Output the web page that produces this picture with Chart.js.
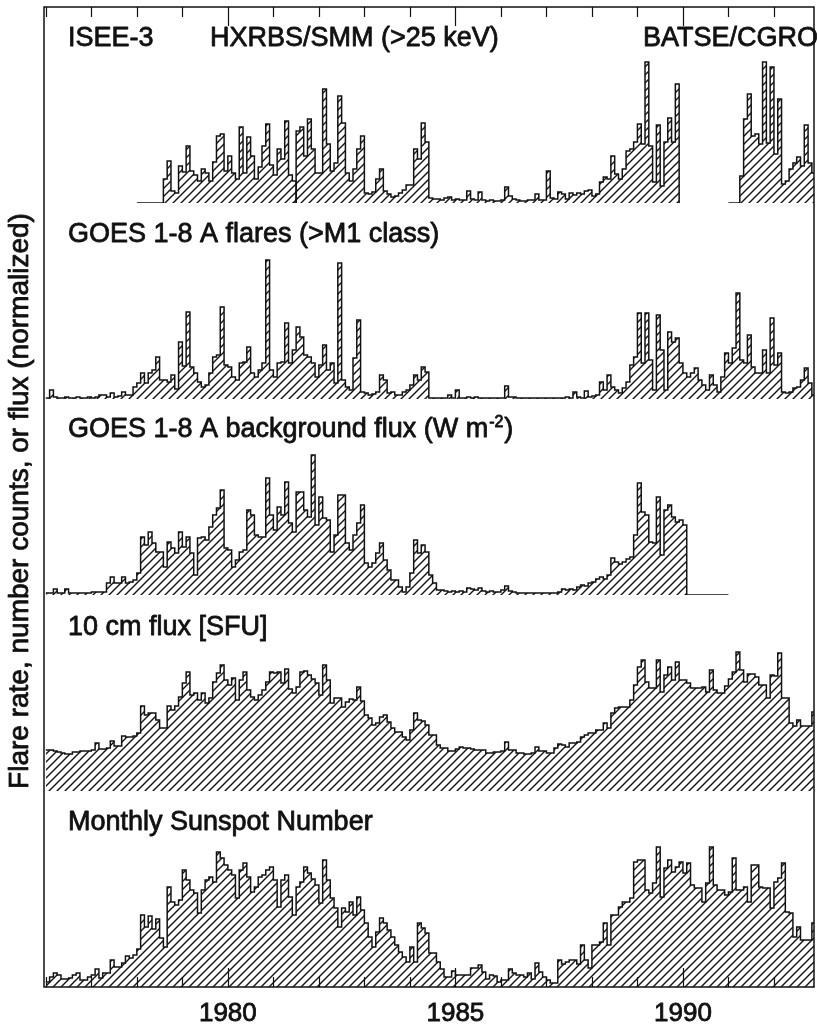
<!DOCTYPE html>
<html>
<head>
<meta charset="utf-8">
<title>Flare rates and solar activity 1976-1992</title>
<script src="https://cdn.jsdelivr.net/npm/chart.js@4.4.1/dist/chart.umd.min.js"></script>
<style>
  html, body { margin: 0; padding: 0; background: #ffffff; }
  canvas { display: block; }
</style>
</head>
<body>
<canvas id="activityChart" width="817" height="1024"></canvas>
<script>
// MONTHLY BINS (ONE ROW PER YEAR), HEIGHTS NORMALIZED TO A PANEL FULL SCALE OF 196
var isee3Start = 1978;            // JAN 1978
var isee3Rate = [
  0, 0, 0, 0, 0, 0, 0, 24, 42, 12, 10, 37,
  31, 57, 32, 28, 22, 34, 30, 22, 41, 67, 69, 32,
  47, 30, 24, 76, 30, 66, 47, 24, 36, 57, 79, 38,
  28, 54, 44, 82, 28, 22, 0
];
var hxrbsStart = 1981 + 5 / 12;   // JUN 1981
var hxrbsRate = [
  0, 72, 76, 47, 84, 54, 30, 30,
  114, 59, 32, 40, 107, 80, 30, 22, 34, 54, 67, 10,
  9, 11, 24, 34, 12, 9, 6, 7, 10, 13, 18, 18,
  54, 44, 80, 61, 5, 4, 4, 3, 5, 6, 3, 4,
  3, 3, 12, 4, 3, 11, 3, 2, 3, 2, 2, 3,
  16, 7, 4, 3, 2, 2, 3, 3, 9, 3, 3, 32,
  5, 4, 11, 9, 4, 10, 8, 10, 9, 12, 13, 7,
  9, 21, 26, 24, 47, 29, 24, 34, 52, 54, 61, 79,
  59, 141, 57, 21, 78, 17, 61, 85, 61, 119, 0
];
var batseStart = 1991;            // JAN 1991
var batseRate = [
  0, 0, 0, 27, 84, 109, 67, 69, 59, 141, 60, 136,
  49, 104, 19, 22, 34, 40, 46, 37, 78, 40, 30, 30
];

var goesStart = 1976;             // JAN 1976, ALSO USED FOR 10 CM AND SUNSPOTS
var goesFlareRate = [
  1, 9, 2, 1, 1, 2, 1, 1, 2, 1, 1, 2,
  1, 2, 4, 4, 2, 6, 2, 3, 7, 4, 4, 12,
  16, 26, 16, 26, 29, 42, 19, 19, 17, 24, 10, 57,
  33, 87, 32, 26, 17, 12, 14, 26, 42, 44, 92, 34,
  32, 22, 19, 36, 37, 52, 26, 22, 29, 36, 139, 29,
  22, 36, 37, 76, 36, 49, 72, 62, 44, 42, 36, 22,
  34, 54, 29, 36, 16, 136, 19, 12, 9, 41, 79, 7,
  6, 4, 5, 7, 24, 19, 6, 7, 4, 4, 7, 9,
  14, 24, 19, 32, 27, 1, 1, 1, 1, 1, 4, 1,
  9, 1, 1, 2, 1, 2, 1, 1, 1, 1, 1, 1,
  1, 13, 2, 2, 1, 1, 1, 1, 1, 1, 1, 1,
  1, 1, 1, 1, 1, 2, 1, 7, 2, 1, 8, 2,
  3, 4, 17, 9, 24, 12, 9, 6, 11, 17, 34, 42,
  86, 36, 86, 39, 9, 84, 49, 9, 67, 57, 61, 36,
  26, 22, 26, 31, 19, 14, 9, 24, 14, 7, 22, 46,
  36, 51, 106, 39, 36, 64, 32, 26, 26, 49, 26, 81,
  34, 46, 7, 6, 7, 11, 12, 19, 31, 16, 4, 4
];
var goesBackground = [
  2, 2, 6, 2, 2, 6, 2, 2, 2, 2, 2, 2,
  3, 3, 3, 3, 12, 18, 12, 12, 18, 12, 13, 15,
  22, 58, 50, 63, 52, 43, 43, 28, 53, 47, 42, 63,
  48, 58, 42, 20, 57, 58, 55, 68, 80, 87, 105, 47,
  45, 28, 35, 43, 45, 85, 80, 60, 58, 58, 117, 80,
  65, 88, 80, 113, 72, 63, 103, 103, 85, 78, 140, 70,
  98, 77, 75, 43, 60, 100, 100, 52, 45, 60, 72, 90,
  32, 28, 32, 42, 52, 35, 25, 15, 15, 8, 3, 8,
  22, 55, 42, 50, 43, 20, 12, 5, 5, 4, 3, 4,
  3, 4, 3, 7, 6, 5, 7, 4, 3, 4, 3, 3,
  5, 9, 4, 3, 2, 2, 2, 2, 2, 2, 2, 2,
  2, 2, 2, 3, 6, 5, 6, 5, 8, 10, 9, 12,
  13, 16, 18, 16, 20, 37, 33, 31, 33, 36, 38, 60,
  112, 83, 80, 53, 52, 98, 40, 85, 90, 78, 73, 75,
  70, 0, 0, 0, 0, 0, 0, 0, 0, 0, 0, 0,
  0
];
var radioFlux = [
  41, 41, 40, 39, 38, 37, 37, 39, 39, 40, 40, 40,
  41, 48, 42, 42, 43, 50, 45, 45, 55, 54, 54, 55,
  58, 85, 76, 78, 78, 71, 63, 63, 85, 81, 85, 94,
  108, 119, 96, 98, 91, 98, 88, 93, 109, 118, 126, 111,
  106, 113, 91, 111, 119, 101, 94, 91, 96, 101, 109, 119,
  118, 119, 108, 122, 102, 98, 104, 119, 120, 116, 112, 108,
  96, 126, 111, 88, 93, 93, 84, 89, 92, 91, 104, 90,
  76, 73, 66, 68, 74, 76, 69, 63, 59, 59, 54, 51,
  61, 78, 71, 70, 66, 56, 56, 46, 43, 43, 40, 40,
  42, 44, 43, 43, 42, 41, 41, 41, 38, 38, 39, 39,
  40, 49, 41, 41, 38, 38, 37, 37, 38, 44, 40, 40,
  38, 38, 43, 47, 46, 44, 48, 48, 49, 54, 56, 58,
  58, 61, 61, 68, 63, 78, 83, 84, 84, 84, 91, 106,
  124, 131, 109, 103, 103, 131, 99, 116, 124, 111, 129, 111,
  111, 108, 103, 103, 103, 104, 99, 121, 101, 98, 98, 105,
  112, 119, 139, 121, 109, 117, 117, 114, 106, 106, 93, 116,
  115, 138, 93, 93, 68, 65, 71, 65, 65, 65, 79, 73
];
var sunspotNumber = [
  5, 10, 14, 12, 8, 8, 9, 12, 14, 7, 7, 10,
  12, 18, 9, 14, 14, 27, 20, 20, 24, 31, 29, 32,
  38, 72, 60, 71, 58, 68, 49, 40, 100, 85, 82, 87,
  117, 107, 97, 94, 74, 97, 107, 110, 105, 135, 129, 122,
  117, 112, 89, 117, 124, 110, 95, 100, 110, 112, 117, 120,
  107, 80, 107, 112, 90, 72, 100, 105, 120, 114, 108, 102,
  84, 127, 107, 89, 79, 60, 79, 75, 85, 72, 90, 77,
  64, 50, 40, 55, 69, 64, 57, 50, 42, 35, 30, 25,
  40, 25, 64, 59, 54, 34, 34, 25, 18, 10, 10, 16,
  12, 12, 12, 12, 19, 19, 22, 15, 8, 12, 11, 5,
  7, 7, 18, 14, 12, 12, 10, 14, 8, 24, 15, 10,
  7, 4, 4, 27, 23, 25, 27, 27, 23, 42, 27, 19,
  42, 42, 45, 64, 42, 72, 72, 80, 85, 85, 89, 125,
  127, 127, 97, 94, 104, 140, 90, 119, 127, 115, 120, 125,
  114, 124, 102, 99, 99, 85, 104, 140, 102, 97, 97, 92,
  95, 129, 97, 97, 100, 85, 122, 122, 100, 99, 99, 79,
  105, 109, 124, 75, 74, 50, 60, 47, 47, 47, 64, 67
];

var yearTicks = [1980, 1985, 1990];
var yearRange = [1975.96, 1992.88];
var panelMax = 196;

var FONT = '"Liberation Sans", Arial, Helvetica, sans-serif';
var INK = '#111111';

// DIAGONAL HATCH USED AS FILL OF EVERY HISTOGRAM
function makeHatch() {
  var size = 8;
  var tile = document.createElement('canvas');
  tile.width = size;
  tile.height = size;
  var g = tile.getContext('2d');
  g.strokeStyle = INK;
  g.lineWidth = 1.4;
  g.beginPath();
  g.moveTo(0, size); g.lineTo(size, 0);
  g.moveTo(-size / 2, size / 2); g.lineTo(size / 2, -size / 2);
  g.moveTo(size / 2, size * 1.5); g.lineTo(size * 1.5, size / 2);
  g.stroke();
  return g.createPattern(tile, 'repeat');
}
var hatch = makeHatch();

// MONTHLY VALUES -> STEP POINTS (EACH VALUE HOLDS FOR ONE MONTH)
function histogram(start, values) {
  var pts = values.map(function (v, i) { return { x: start + i / 12, y: v }; });
  var last = values[values.length - 1];
  if (last !== 0) pts.push({ x: start + values.length / 12, y: last });
  return pts;
}

function panelSet(label, start, values, axisId) {
  return {
    label: label,
    data: histogram(start, values),
    yAxisID: axisId,
    stepped: 'before',
    fill: 'origin',
    borderColor: INK,
    borderWidth: 1.5,
    backgroundColor: hatch,
    pointRadius: 0,
    pointHoverRadius: 0,
    tension: 0
  };
}

// FIVE PANELS SHARE THE LEFT SIDE, HIGHER WEIGHT SITS HIGHER
function panelAxis(order) {
  return {
    type: 'linear',
    position: 'left',
    stack: 'panels',
    stackWeight: 1,
    weight: order,
    min: 0,
    max: panelMax,
    grid: { display: false, drawTicks: false },
    border: { display: false },
    ticks: { display: false },
    afterFit: function (scale) { scale.width = 0; }
  };
}

// TEXT A LITTLE HEAVIER, LIKE THE PRINTED FIGURE
function inkText(ctx, text, x, y) {
  ctx.fillText(text, x, y);
  ctx.strokeText(text, x, y);
}

// FRAME, INWARD YEAR TICKS, PANEL TITLES AND THE SIDE TITLE
var decorations = {
  id: 'decorations',
  afterDraw: function (chart) {
    var ctx = chart.ctx;
    var area = chart.chartArea;
    var xs = chart.scales.x;
    ctx.save();
    ctx.strokeStyle = INK;
    ctx.lineWidth = 1.5;
    ctx.strokeRect(area.left, area.top, area.right - area.left, area.bottom - area.top);

    ctx.lineWidth = 1.2;
    ctx.beginPath();
    for (var yr = Math.ceil(xs.min); yr <= xs.max; yr++) {
      var px = Math.round(xs.getPixelForValue(yr)) + 0.5;
      var len = yr % 5 === 0 ? 19 : 10;
      ctx.moveTo(px, area.top); ctx.lineTo(px, area.top + len);
      ctx.moveTo(px, area.bottom); ctx.lineTo(px, area.bottom - len);
    }
    ctx.stroke();

    ctx.fillStyle = INK;
    ctx.lineWidth = 0.8;
    ctx.lineJoin = 'round';
    ctx.textAlign = 'left';
    ctx.textBaseline = 'alphabetic';
    ctx.font = '27px ' + FONT;
    var x0 = area.left + 24;
    var t1 = chart.scales.yHxr.top + 39;
    inkText(ctx, 'ISEE-3', x0, t1);
    inkText(ctx, 'HXRBS/SMM (>25 keV)', area.left + 166, t1);
    inkText(ctx, 'BATSE/CGRO', area.left + 599, t1);
    inkText(ctx, 'GOES 1-8 A flares (>M1 class)', x0, chart.scales.yFlare.top + 39);

    var t3 = chart.scales.yBack.top + 38;
    var head = 'GOES 1-8 A background flux (W m';
    inkText(ctx, head, x0, t3);
    var xe = x0 + ctx.measureText(head).width;
    ctx.font = '16px ' + FONT;
    inkText(ctx, '-2', xe + 1, t3 - 10);
    xe += ctx.measureText('-2').width + 2;
    ctx.font = '27px ' + FONT;
    inkText(ctx, ')', xe, t3);

    inkText(ctx, '10 cm flux [SFU]', x0, chart.scales.yRadio.top + 40);
    inkText(ctx, 'Monthly Sunspot Number', x0, chart.scales.ySpot.top + 39);

    ctx.translate(20, (area.top + area.bottom) / 2 + 4);
    ctx.rotate(-Math.PI / 2);
    ctx.textAlign = 'center';
    ctx.textBaseline = 'middle';
    ctx.font = '28px ' + FONT;
    inkText(ctx, 'Flare rate, number counts, or flux (normalized)', 0, 0);
    ctx.restore();
  }
};

var ctx = document.getElementById('activityChart').getContext('2d');
var activityChart = new Chart(ctx, {
  type: 'line',
  data: {
    datasets: [
      panelSet('ISEE-3', isee3Start, isee3Rate, 'yHxr'),
      panelSet('HXRBS/SMM', hxrbsStart, hxrbsRate, 'yHxr'),
      panelSet('BATSE/CGRO', batseStart, batseRate, 'yHxr'),
      panelSet('GOES flares', goesStart, goesFlareRate, 'yFlare'),
      panelSet('GOES background', goesStart, goesBackground, 'yBack'),
      panelSet('10 cm flux', goesStart, radioFlux, 'yRadio'),
      panelSet('Sunspot number', goesStart, sunspotNumber, 'ySpot')
    ]
  },
  options: {
    responsive: false,
    animation: false,
    events: [],
    layout: { padding: { left: 44, right: 3, top: 7, bottom: 0 } },
    plugins: {
      legend: { display: false },
      tooltip: { enabled: false }
    },
    scales: {
      x: {
        type: 'linear',
        position: 'bottom',
        min: yearRange[0],
        max: yearRange[1],
        grid: { display: false, drawTicks: false },
        border: { display: false },
        afterBuildTicks: function (scale) {
          scale.ticks = yearTicks.map(function (v) { return { value: v }; });
        },
        afterFit: function (scale) { scale.height = 37; },
        ticks: {
          autoSkip: false,
          maxRotation: 0,
          padding: 11,
          color: INK,
          textStrokeColor: INK,
          textStrokeWidth: 0.8,
          font: { family: FONT, size: 26 },
          callback: function (value) { return String(value); }
        }
      },
      yHxr: panelAxis(5),
      yFlare: panelAxis(4),
      yBack: panelAxis(3),
      yRadio: panelAxis(2),
      ySpot: panelAxis(1)
    }
  },
  plugins: [decorations]
});
</script>
</body>
</html>
